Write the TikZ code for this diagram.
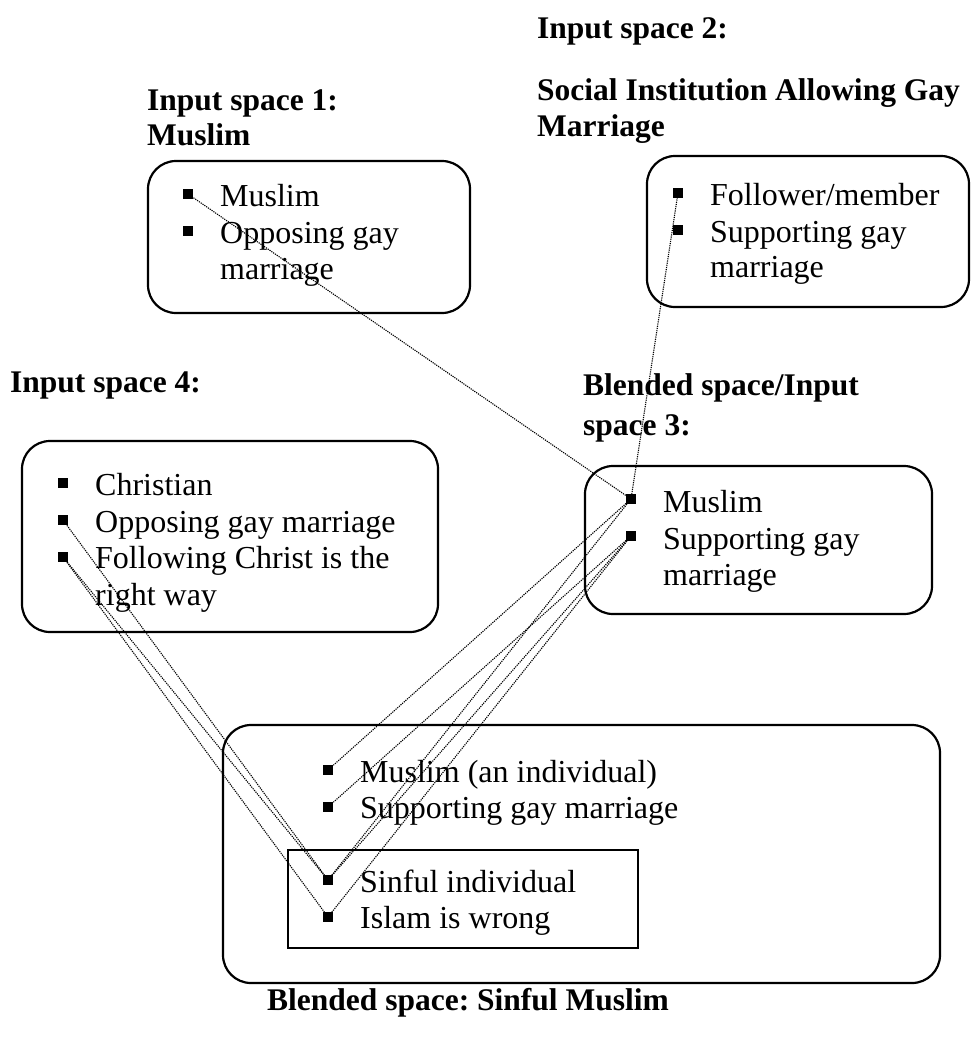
\documentclass[tikz,border=0pt]{standalone}
\usepackage{fontspec}
\setmainfont{Liberation Serif}
\frenchspacing
\begin{document}
\begin{tikzpicture}[x=1pt,y=-1pt,
  spacebox/.style={draw, line width=2.2pt, rounded corners=28pt},
  blendrect/.style={draw, line width=2pt},
  bul/.style={fill=black, minimum size=10pt, inner sep=0pt, outer sep=0pt},
  item/.style={anchor=base west, inner sep=0pt, font=\fontsize{32}{36}\selectfont},
  head/.style={anchor=base west, inner sep=0pt, font=\fontsize{31.5}{36}\selectfont\bfseries},
  link/.style={line width=1.1pt, dash pattern=on 1.2pt off 1pt}
]
\useasboundingbox (0,0) rectangle (970,1045);

% frames of the mental spaces
\draw[spacebox] (148,161) rectangle (470,313);
\draw[spacebox] (647,156) rectangle (969,307);
\draw[spacebox] (585,466) rectangle (932,614);
\draw[spacebox] (22,441) rectangle (438,632);
\draw[spacebox] (223,725) rectangle (940,983);
\draw[blendrect] (288,850) rectangle (638,948);

% headings
\node[head] (h2a) at (537,38) {Input space 2:};
\node[head] (h2b) at (537,100) {Social Institution Allowing Gay};
\node[head] (h2c) at (537,136) {Marriage};
\node[head] (h1a) at (147,110) {Input space 1:};
\node[head] (h1b) at (147,145) {Muslim};
\node[head] (h4) at (10,392) {Input space 4:};
\node[head] (h3a) at (583,395) {Blended space/Input};
\node[head] (h3b) at (583,435) {space 3:};
\node[head, anchor=base] (hb) at (468,1010) {Blended space: Sinful Muslim};

% input space 1
\node[bul] (a1) at (188,194) {};
\node[bul] (a2) at (188,231) {};
\node[item] (ta1) at (220,206) {Muslim};
\node[item] (ta2) at (220,243) {Opposing gay};
\node[item] (ta3) at (220,279) {marriage};

% input space 2
\node[bul] (b1) at (678,193) {};
\node[bul] (b2) at (678,230) {};
\node[item] (tb1) at (710,205) {Follower/member};
\node[item] (tb2) at (710,242) {Supporting gay};
\node[item] (tb3) at (710,277) {marriage};

% blended space / input space 3
\node[bul] (c1) at (631,499) {};
\node[bul] (c2) at (631,536) {};
\node[item] (tc1) at (663,512) {Muslim};
\node[item] (tc2) at (663,549) {Supporting gay};
\node[item] (tc3) at (663,585) {marriage};

% input space 4
\node[bul] (d1) at (63,483) {};
\node[bul] (d2) at (63,520) {};
\node[bul] (d3) at (63,557) {};
\node[item] (td1) at (95,495) {Christian};
\node[item] (td2) at (95,532) {Opposing gay marriage};
\node[item] (td3) at (95,568) {Following Christ is the};
\node[item] (td4) at (95,605) {right way};

% final blend
\node[bul] (e1) at (328,770) {};
\node[bul] (e2) at (328,807) {};
\node[bul] (e3) at (328,880) {};
\node[bul] (e4) at (328,917) {};
\node[item] (te1) at (360,782) {Muslim (an individual)};
\node[item] (te2) at (360,818) {Supporting gay marriage};
\node[item] (te3) at (360,892) {Sinful individual};
\node[item] (te4) at (360,928) {Islam is wrong};

% projections between spaces
\draw[link] (a1.center) -- (c1.center);
\draw[link] (b1.center) -- (c1.center);
\draw[link] (c1.center) -- (e1.center);
\draw[link] (c1.center) -- (e3.center);
\draw[link] (c2.center) -- (e2.center);
\draw[link] (c2.center) -- (e3.center);
\draw[link] (c2.center) -- (e4.center);
\draw[link] (d2.center) -- (e3.center);
\draw[link] (d3.center) -- (e3.center);
\draw[link] (d3.center) -- (e4.center);
\end{tikzpicture}
\end{document}
